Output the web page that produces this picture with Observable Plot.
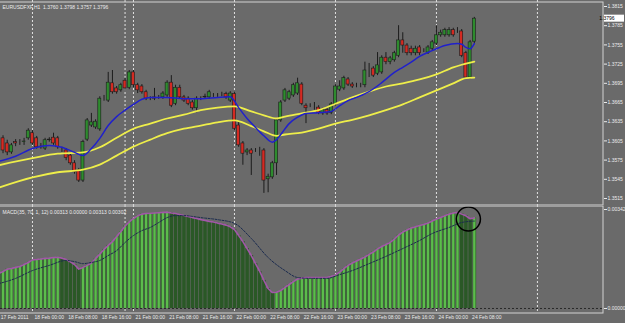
<!DOCTYPE html>
<html><head><meta charset="utf-8">
<script src="https://cdn.jsdelivr.net/npm/d3@7"></script>
<script src="https://cdn.jsdelivr.net/npm/@observablehq/plot@0.6"></script>
<style>
html,body{margin:0;padding:0;background:#6a6a6a;}
#chart{width:625px;height:323px;overflow:hidden;background:#6a6a6a;}
#chart svg{display:block;}
</style></head><body><div id="chart"></div>
<script>
// ---------- DATA ----------
const header = "EURUSDFXF,H1  1.3760 1.3798 1.3757 1.3796";
const macdHeader = "MACD(35, 70, 1, 12) 0.00313 0.00000 0.00313 0.00302";
const firstBar = 1;
const open = [1.3609,1.3601,1.3587,1.3603,1.3603,1.3603,1.3609,1.3617,1.3609,1.3595,
1.3593,1.3606,1.3610,1.3609,1.3590,1.3590,1.3582,1.3570,1.3559,1.3543,
1.3607,1.3629,1.3626,1.3623,1.3671,1.3668,1.3695,1.3687,1.3684,1.3699,
1.3688,1.3712,1.3692,1.3690,1.3681,1.3671,1.3673,1.3673,1.3673,1.3676,
1.3696,1.3663,1.3688,1.3673,1.3671,1.3665,1.3656,1.3671,1.3673,1.3673,
1.3676,1.3676,1.3678,1.3678,1.3668,1.3678,1.3629,1.3601,1.3587,1.3590,
1.3590,1.3587,1.3590,1.3545,1.3548,1.3570,1.3637,1.3668,1.3671,1.3676,
1.3679,1.3693,1.3660,1.3660,1.3659,1.3657,1.3648,1.3653,1.3649,1.3662,
1.3685,1.3687,1.3701,1.3693,1.3692,1.3692,1.3692,1.3718,1.3718,1.3710,
1.3712,1.3735,1.3728,1.3731,1.3738,1.3762,1.3754,1.3749,1.3742,1.3751,
1.3746,1.3743,1.3749,1.3757,1.3770,1.3770,1.3770,1.3778,1.3776,1.3776,
1.3742,1.3704,1.3760];
const high = [1.3613,1.3606,1.3601,1.3607,1.3607,1.3609,1.3624,1.3621,1.3612,1.3601,
1.3609,1.3610,1.3617,1.3612,1.3595,1.3593,1.3585,1.3574,1.3562,1.3606,
1.3640,1.3648,1.3638,1.3674,1.3676,1.3712,1.3715,1.3690,1.3695,1.3703,
1.3715,1.3715,1.3695,1.3693,1.3684,1.3674,1.3687,1.3676,1.3682,1.3699,
1.3707,1.3692,1.3692,1.3676,1.3674,1.3668,1.3674,1.3674,1.3678,1.3684,
1.3679,1.3679,1.3681,1.3681,1.3682,1.3681,1.3634,1.3604,1.3593,1.3593,
1.3593,1.3595,1.3593,1.3553,1.3573,1.3640,1.3668,1.3687,1.3684,1.3695,
1.3703,1.3696,1.3663,1.3663,1.3665,1.3660,1.3656,1.3656,1.3665,1.3693,
1.3699,1.3706,1.3704,1.3696,1.3695,1.3695,1.3728,1.3726,1.3721,1.3743,
1.3738,1.3743,1.3737,1.3745,1.3785,1.3774,1.3757,1.3753,1.3753,1.3754,
1.3749,1.3754,1.3762,1.3785,1.3778,1.3781,1.3782,1.3781,1.3782,1.3779,
1.3745,1.3762,1.3798];
const low = [1.3585,1.3582,1.3584,1.3596,1.3598,1.3598,1.3606,1.3598,1.3592,1.3592,
1.3590,1.3603,1.3598,1.3592,1.3587,1.3574,1.3567,1.3553,1.3540,1.3540,
1.3604,1.3626,1.3623,1.3620,1.3667,1.3665,1.3678,1.3678,1.3681,1.3684,
1.3685,1.3688,1.3679,1.3678,1.3668,1.3668,1.3668,1.3670,1.3670,1.3673,
1.3657,1.3660,1.3670,1.3665,1.3660,1.3653,1.3649,1.3668,1.3670,1.3670,
1.3673,1.3673,1.3674,1.3670,1.3665,1.3621,1.3595,1.3567,1.3582,1.3551,
1.3587,1.3581,1.3523,1.3524,1.3545,1.3551,1.3634,1.3665,1.3668,1.3673,
1.3676,1.3660,1.3632,1.3657,1.3653,1.3646,1.3645,1.3645,1.3646,1.3659,
1.3682,1.3684,1.3690,1.3687,1.3688,1.3688,1.3688,1.3704,1.3704,1.3707,
1.3709,1.3724,1.3724,1.3728,1.3735,1.3742,1.3738,1.3738,1.3738,1.3738,
1.3743,1.3740,1.3746,1.3754,1.3767,1.3767,1.3767,1.3767,1.3773,1.3735,
1.3703,1.3701,1.3757];
const close = [1.3590,1.3587,1.3598,1.3601,1.3603,1.3604,1.3621,1.3601,1.3595,1.3596,
1.3606,1.3607,1.3601,1.3595,1.3590,1.3578,1.3570,1.3556,1.3543,1.3603,
1.3637,1.3634,1.3635,1.3671,1.3671,1.3696,1.3681,1.3681,1.3692,1.3687,
1.3712,1.3692,1.3684,1.3681,1.3671,1.3671,1.3671,1.3673,1.3679,1.3696,
1.3660,1.3688,1.3673,1.3668,1.3663,1.3656,1.3671,1.3671,1.3674,1.3681,
1.3676,1.3676,1.3678,1.3673,1.3679,1.3624,1.3598,1.3585,1.3590,1.3585,
1.3590,1.3587,1.3543,1.3549,1.3570,1.3637,1.3665,1.3684,1.3681,1.3692,
1.3695,1.3663,1.3656,1.3660,1.3659,1.3649,1.3653,1.3648,1.3662,1.3690,
1.3690,1.3703,1.3693,1.3690,1.3692,1.3692,1.3715,1.3718,1.3707,1.3723,
1.3735,1.3728,1.3734,1.3742,1.3762,1.3754,1.3742,1.3742,1.3749,1.3742,
1.3746,1.3751,1.3759,1.3770,1.3774,1.3778,1.3778,1.3770,1.3776,1.3738,
1.3704,1.3759,1.3796];

const blueIdx = [0,4,8,12,15,18,20,22,24,26,28,30,32,34,36,40,44,48,52,55,57,59,61,63,65,66,67,69,71,73,76,79,81,83,85,88,91,94,96,98,100,103,106,109,110,111,112,113];
const blueVal = [1.3573,1.3581,1.3593,1.3598,1.3595,1.3587,1.3582,1.3593,1.3609,1.3629,
1.3643,1.3653,1.3662,1.3670,1.3673,1.3673,1.3671,1.3671,1.3673,1.3674,
1.3657,1.3640,1.3626,1.3613,1.3603,1.3607,1.3615,1.3632,1.3642,1.3648,
1.3649,1.3651,1.3660,1.3668,1.3673,1.3682,1.3696,1.3712,1.3720,1.3728,
1.3737,1.3746,1.3754,1.3757,1.3756,1.3751,1.3749,1.3757];
const upIdx = [0,8,14,20,24,28,32,36,40,44,48,52,56,60,63,66,68,72,76,80,84,88,92,96,100,104,108,110,113];
const upVal = [1.3567,1.3578,1.3585,1.3587,1.3595,1.3610,1.3624,1.3632,1.3640,1.3646,
1.3653,1.3657,1.3659,1.3651,1.3645,1.3640,1.3643,1.3648,1.3653,1.3663,
1.3673,1.3682,1.3690,1.3695,1.3701,1.3709,1.3720,1.3724,1.3729];
const loIdx = [0,8,14,20,24,28,32,36,40,44,48,52,56,60,63,66,68,72,76,80,84,88,92,96,100,104,108,111,113];
const loVal = [1.3532,1.3548,1.3556,1.3560,1.3568,1.3582,1.3596,1.3607,1.3617,1.3624,
1.3629,1.3634,1.3637,1.3628,1.3620,1.3613,1.3615,1.3618,1.3624,1.3632,
1.3638,1.3645,1.3653,1.3662,1.3673,1.3684,1.3695,1.3703,1.3704];

const macdHist = [
0.00121,0.00128,0.00136,0.00138,0.00142,0.00145,0.00152,0.00159,0.00168,0.00169,
0.00171,0.00173,0.00174,0.00176,0.00177,0.00174,0.00169,0.00161,0.00152,0.00136,
0.00142,0.00149,0.00157,0.00173,0.00188,0.00204,0.00218,0.00231,0.00249,0.00266,
0.00285,0.00299,0.00311,0.00320,0.00326,0.00328,0.00329,0.00330,0.00331,0.00332,
0.00333,0.00330,0.00328,0.00325,0.00321,0.00318,0.00314,0.00311,0.00307,0.00304,
0.00301,0.00299,0.00295,0.00292,0.00288,0.00282,0.00273,0.00252,0.00231,0.00207,
0.00183,0.00155,0.00128,0.00097,0.00069,0.00055,0.00056,0.00062,0.00073,0.00083,
0.00093,0.00102,0.00105,0.00107,0.00107,0.00107,0.00107,0.00107,0.00107,0.00111,
0.00116,0.00126,0.00138,0.00149,0.00157,0.00164,0.00171,0.00178,0.00187,0.00195,
0.00206,0.00214,0.00221,0.00228,0.00240,0.00254,0.00264,0.00271,0.00278,0.00282,
0.00287,0.00290,0.00295,0.00302,0.00309,0.00314,0.00320,0.00326,0.00330,0.00332,
0.00326,0.00320,0.00310,0.00313];
const sigIdx = [0,4,8,12,16,18,20,22,24,26,28,30,32,34,36,38,40,42,44,46,48,52,56,60,64,68,71,74,78,81,84,88,92,96,100,103,107,110,113];
const sigVal = [0.00086,0.00104,0.00131,0.00149,0.00166,0.00162,0.00155,0.00159,0.00166,0.00183,
0.00200,0.00228,0.00252,0.00269,0.00280,0.00297,0.00314,0.00321,0.00321,0.00318,
0.00314,0.00307,0.00294,0.00242,0.00176,0.00131,0.00107,0.00104,0.00104,0.00117,
0.00131,0.00155,0.00180,0.00207,0.00235,0.00259,0.00280,0.00297,0.00302];

const priceTicks = [1.3815,1.3785,1.3755,1.3725,1.3695,1.3665,1.3635,1.3605,1.3575,1.3545,1.3515];
const macdTicks = [0.00342, 0];
const tickIdx = [0,8,16,24,32,40,48,56,64,72,80,88,96,104,112];
const tickLabels = ["17 Feb 2011","18 Feb 00:00","18 Feb 08:00","18 Feb 16:00","21 Feb 00:00","21 Feb 08:00","21 Feb 16:00","22 Feb 00:00","22 Feb 08:00","22 Feb 16:00","23 Feb 00:00","23 Feb 08:00","23 Feb 16:00","24 Feb 00:00","24 Feb 08:00"];
const gridIdx = [8,30,32,56,80,104,128];
const annotation = [{i: 111.6, v: 0.00309}];

// ---------- BUILD ----------
const xDomain = [0.4, 143.7];
const priceDomain = [1.350406, 1.382438];
const macdDomain = [-0.000173, 0.003558];
const FONT = "'Liberation Sans', Arial, sans-serif";
const TXT = "#ececec";
const baseStyle = {background: "transparent", color: TXT, fontFamily: FONT, fontSize: "5px"};

const candles = open.map((o, k) => ({i: firstBar + k, open: o, high: high[k], low: low[k], close: close[k]}));
const pts = (idx, val) => idx.map((i, k) => ({i, v: val[k]}));
const blue = pts(blueIdx, blueVal), upper = pts(upIdx, upVal), lower = pts(loIdx, loVal);
const hist = [];
macdHist.forEach((v, i) => {
  const prev = i > 0 ? macdHist[i - 1] : v;
  const up = v > prev || (v === prev && i > 0 && hist[i - 1].up);
  hist.push({i, v, up});
});
const signal = pts(sigIdx, sigVal);
const xTicks = tickIdx.map((i, k) => ({i, label: tickLabels[k]}));

const main = Plot.plot({
  width: 625, height: 205,
  marginTop: 0, marginRight: 22, marginBottom: 0, marginLeft: 0,
  style: baseStyle,
  x: {domain: xDomain, axis: null},
  y: {domain: priceDomain, axis: "right", ticks: priceTicks, tickFormat: d => d.toFixed(4), tickSize: 3, tickPadding: 1, label: null},
  marks: [
    Plot.ruleX(gridIdx, {stroke: "#e2e2e2", strokeDasharray: "2,2", strokeWidth: 1}),
    Plot.ruleX(candles, {x: "i", y1: "low", y2: "high", stroke: "#1c1c1c", strokeWidth: 1}),
    Plot.rect(candles, {x1: d => d.i - 0.36, x2: d => d.i + 0.36, y1: "open", y2: "close",
      fill: d => d.close >= d.open ? "#2e8b2e" : "#d42a22", stroke: "#1c1c1c", strokeWidth: 0.6}),
    Plot.line(upper, {x: "i", y: "v", stroke: "#eeee4a", strokeWidth: 1.8, curve: "monotone-x"}),
    Plot.line(lower, {x: "i", y: "v", stroke: "#eeee4a", strokeWidth: 1.8, curve: "monotone-x"}),
    Plot.line(blue, {x: "i", y: "v", stroke: "#2020cc", strokeWidth: 1.5, curve: "monotone-x"}),
    Plot.text([header], {frameAnchor: "top-left", dx: 2, dy: 5, fill: TXT, textAnchor: "start"}),
    Plot.frame({stroke: "#d2d2d2", insetTop: 1.5, insetLeft: -2, insetBottom: 0.5, insetRight: 0.5})
  ]
});

// current price box on right axis
{
  const ys = d3.scaleLinear(priceDomain, [205, 0]);
  const last = close[close.length - 1];
  const g = d3.select(main).append("g");
  g.append("rect").attr("x", 604).attr("y", ys(last) - 3.5).attr("width", 20).attr("height", 7).attr("fill", "#ffffff");
  g.append("text").attr("x", 607).attr("y", ys(last)).attr("dy", "0.35em").attr("fill", "#000")
    .style("font-size", "5px").style("font-family", FONT).text(last.toFixed(4));
}

const macd = Plot.plot({
  width: 625, height: 118,
  marginTop: 0, marginRight: 22, marginBottom: 10, marginLeft: 0,
  style: baseStyle,
  x: {domain: xDomain, axis: null},
  y: {domain: macdDomain, axis: "right", ticks: macdTicks, tickFormat: d => d.toFixed(5), tickSize: 3, tickPadding: 1, label: null},
  marks: [
    Plot.ruleX(gridIdx, {stroke: "#e2e2e2", strokeDasharray: "2,2", strokeWidth: 1}),
    Plot.ruleY([0], {stroke: "#2a2a2a", strokeDasharray: "2,2", strokeWidth: 1}),
    Plot.ruleX(hist, {x: "i", y1: 0, y2: "v", stroke: "#2a5826", strokeWidth: 3.6}),
    Plot.ruleX(hist.filter(d => d.up), {x: "i", y1: 0, y2: "v", stroke: "#5cbc4c", strokeWidth: 2.4}),
    Plot.line(hist, {x: "i", y: "v", stroke: "#a257a8", strokeWidth: 1.6}),
    Plot.line(signal, {x: "i", y: "v", stroke: "#1a2a4e", strokeDasharray: "2,1.5", strokeWidth: 1, curve: "monotone-x"}),
    Plot.text([macdHeader], {frameAnchor: "top-left", dx: 2, dy: 5, fill: TXT, textAnchor: "start"}),
    Plot.text(xTicks, {x: "i", text: "label", frameAnchor: "bottom", dy: 5, dx: 2, textAnchor: "start", fill: TXT}),
    Plot.dot(annotation, {x: "i", y: "v", r: 12, stroke: "#000", strokeWidth: 1.5, fill: "none"}),
    Plot.frame({stroke: "#d2d2d2", insetTop: 0.5, insetLeft: -2, insetBottom: 0.5, insetRight: 0.5})
  ]
});

const host = document.getElementById("chart");
host.appendChild(main);
host.appendChild(macd);
</script></body></html>
